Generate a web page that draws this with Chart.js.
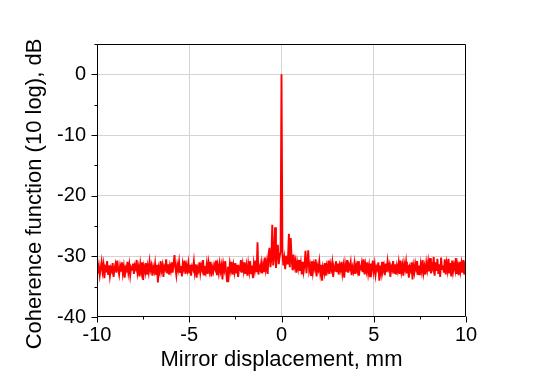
<!DOCTYPE html>
<html>
<head>
<meta charset="utf-8">
<script src="https://cdn.jsdelivr.net/npm/chart.js@4/dist/chart.umd.min.js"></script>
<style>
    html, body { margin: 0; padding: 0; background: #fff; }
    #wrap { width: 542px; height: 381px; }
</style>
</head>
<body>
<div id="wrap"><canvas id="coherence"></canvas></div>
<script>
// sampling of the mirror scan, mm
const xStart = -10;
const xStep = 0.05;

// coherence function, dB (10 log), one row per mm of displacement
const coherence = [
    -31.2,-32.8,-31.6,-33.1,-32.0,-30.9,-32.5,-31.4,-33.6,-31.8,-32.2,-30.8,-32.9,-31.5,-33.2,-31.9,-32.4,-31.1,-33.4,-32.0,
    -31.3,-32.7,-30.7,-32.1,-33.0,-31.6,-32.5,-31.0,-32.8,-31.7,-33.5,-31.9,-32.3,-30.9,-32.6,-31.4,-33.1,-31.8,-32.2,-31.2,
    -32.9,-31.5,-32.0,-30.6,-32.7,-31.8,-33.3,-31.3,-32.5,-31.0,-33.9,-31.7,-32.4,-31.1,-33.0,-31.6,-32.6,-30.9,-32.2,-31.5,
    -33.2,-31.8,-32.5,-31.2,-32.9,-31.4,-34.3,-31.9,-32.6,-30.8,-32.3,-31.5,-33.4,-31.7,-32.1,-30.5,-32.8,-31.3,-33.0,-31.6,
    -32.4,-31.0,-32.7,-31.3,-29.8,-31.9,-33.1,-31.4,-32.2,-30.9,-32.6,-31.6,-33.3,-31.2,-32.0,-30.7,-32.9,-31.5,-32.3,-31.1,
    -32.8,-31.4,-33.2,-31.7,-32.1,-30.8,-32.6,-31.3,-33.5,-31.9,-32.4,-31.0,-32.7,-31.5,-32.2,-30.6,-33.0,-31.6,-32.5,-31.2,
    -32.9,-31.1,-32.3,-30.9,-33.3,-31.8,-32.5,-31.4,-32.0,-30.7,-33.1,-31.6,-32.7,-31.2,-32.4,-31.5,-33.8,-31.3,-32.2,-30.8,
    -32.6,-34.1,-31.7,-32.9,-31.2,-32.3,-30.9,-33.0,-31.5,-32.6,-31.1,-32.8,-31.4,-33.4,-31.8,-32.1,-30.6,-32.7,-31.3,-32.4,
    -31.0,-32.9,-31.6,-33.2,-31.3,-32.5,-30.8,-32.8,-31.5,-33.6,-31.2,-32.3,-30.7,-32.6,-27.7,-33.0,-31.7,-32.2,-31.1,-32.8,
    -31.4,-32.6,-30.2,-32.1,-31.0,-32.9,-29.6,-28.6,-31.8,-30.4,-24.8,-31.5,-30.1,-25.2,-31.9,-29.8,-28.1,-31.3,-30.0,-29.2,
    0.0,-29.4,-31.5,-30.3,-32.1,-29.9,-31.2,-30.6,-26.3,-31.8,-27.0,-30.5,-32.3,-29.7,-31.6,-30.8,-32.7,-31.0,-32.0,-30.6,
    -32.4,-31.2,-33.0,-30.9,-32.5,-31.4,-29.1,-32.8,-31.0,-29.0,-32.3,-31.5,-33.1,-30.8,-32.6,-31.3,-32.0,-30.5,-33.3,-31.6,
    -32.2,-30.9,-32.7,-31.4,-34.0,-31.8,-32.5,-31.1,-33.2,-31.6,-32.3,-30.7,-32.9,-31.3,-32.1,-31.0,-33.4,-31.7,-32.4,-30.8,
    -32.6,-31.2,-33.0,-31.5,-32.2,-30.9,-32.8,-31.6,-33.5,-31.3,-32.4,-30.6,-32.7,-31.4,-32.0,-31.0,-33.1,-31.8,-32.5,-31.2,
    -32.9,-31.5,-32.3,-30.8,-33.2,-31.7,-32.0,-31.1,-32.6,-30.5,-33.0,-31.4,-32.4,-31.0,-32.8,-31.6,-33.3,-31.2,-32.1,-30.7,
    -32.5,-31.3,-33.0,-31.8,-32.2,-31.0,-34.0,-31.5,-32.7,-30.9,-32.3,-31.6,-33.1,-31.2,-32.6,-30.8,-32.0,-31.4,-33.4,-31.7,
    -32.2,-30.8,-32.7,-31.3,-33.0,-31.6,-32.4,-31.1,-32.9,-30.7,-32.5,-31.5,-33.2,-31.2,-32.1,-30.9,-32.8,-31.4,-33.5,-31.8,
    -32.3,-31.0,-33.8,-31.6,-32.6,-31.2,-32.1,-30.8,-32.9,-31.5,-33.1,-31.3,-32.4,-30.6,-32.7,-31.7,-33.0,-31.1,-32.2,-30.9,
    -32.5,-30.3,-32.8,-31.4,-32.0,-30.1,-33.2,-31.0,-32.4,-30.4,-32.9,-31.3,-33.4,-30.2,-32.1,-31.5,-32.7,-30.5,-33.0,-31.2,
    -32.3,-30.4,-32.8,-31.1,-33.3,-30.7,-32.5,-31.4,-32.1,-30.3,-32.9,-31.6,-33.1,-30.9,-32.4,-31.2,-32.7,-30.6,-33.0,-31.5,
    -32.2
];

const xTickValues = [-10, -5, 0, 5, 10];
const yTickValues = [-40, -30, -20, -10, 0];

const points = coherence.map((v, i) => ({ x: +(xStart + i * xStep).toFixed(2), y: v }));

const textFont = "'Liberation Sans', Arial, sans-serif";

// frame, outward ticks and rotated y title
const framePlugin = {
    id: "frame",
    afterDraw(chart) {
        const { ctx, chartArea: a, scales } = chart;
        const l = Math.round(a.left) + 0.5;
        const r = Math.round(a.right) - 0.5;
        const t = Math.round(a.top) + 0.5;
        const b = Math.round(a.bottom) - 0.5;
        ctx.save();
        ctx.strokeStyle = "#000";
        ctx.lineWidth = 1;
        ctx.beginPath();
        ctx.rect(l, t, r - l, b - t);
        for (let v = -10; v <= 10; v += 2.5) {
            const px = Math.round(scales.x.getPixelForValue(v)) + 0.5;
            const len = xTickValues.includes(v) ? 6 : 3;
            ctx.moveTo(px, b);
            ctx.lineTo(px, b + len);
        }
        for (let v = -40; v <= 5; v += 5) {
            const py = Math.round(scales.y.getPixelForValue(v)) + 0.5;
            const len = yTickValues.includes(v) ? 6 : 3;
            ctx.moveTo(l, py);
            ctx.lineTo(l - len, py);
        }
        ctx.stroke();

        ctx.fillStyle = "#000";
        ctx.font = "22px " + textFont;
        ctx.textAlign = "center";
        ctx.textBaseline = "middle";
        ctx.translate(35, 194);
        ctx.rotate(-Math.PI / 2);
        ctx.fillText("Coherence function (10 log), dB", 0, 0);
        ctx.restore();
    },
};

const ctx = document.getElementById("coherence").getContext("2d");

new Chart(ctx, {
    type: "line",
    data: {
        datasets: [
            {
                data: points,
                borderColor: "#ff0000",
                borderWidth: 1.9,
                pointRadius: 0,
                tension: 0,
            },
        ],
    },
    options: {
        responsive: true,
        maintainAspectRatio: false,
        animation: false,
        events: [],
        layout: {
            padding: { left: 0, right: 76, top: 44, bottom: 0 },
        },
        plugins: {
            legend: { display: false },
            tooltip: { enabled: false },
        },
        scales: {
            x: {
                type: "linear",
                min: -10,
                max: 10,
                afterFit: (scale) => {
                    scale.height = 64;
                },
                border: { display: false },
                grid: {
                    drawTicks: false,
                    color: (c) =>
                        c.tick && c.tick.value % 5 === 0 && Math.abs(c.tick.value) < 10
                            ? "#d4d4d4"
                            : "rgba(0,0,0,0)",
                },
                ticks: {
                    stepSize: 2.5,
                    padding: 6,
                    color: "#000",
                    font: { family: textFont, size: 20 },
                    maxRotation: 0,
                    autoSkip: false,
                    callback: (v) => (xTickValues.includes(v) ? String(v) : ""),
                },
                title: {
                    display: true,
                    text: "Mirror displacement, mm",
                    color: "#000",
                    font: { family: textFont, size: 22 },
                    padding: { top: 0, bottom: 8 },
                },
            },
            y: {
                min: -40,
                max: 5,
                afterFit: (scale) => {
                    scale.width = 97;
                },
                border: { display: false },
                grid: {
                    drawTicks: false,
                    color: (c) =>
                        c.tick && c.tick.value % 10 === 0 && c.tick.value > -40
                            ? "#d4d4d4"
                            : "rgba(0,0,0,0)",
                },
                ticks: {
                    stepSize: 5,
                    padding: 11,
                    color: "#000",
                    font: { family: textFont, size: 20 },
                    autoSkip: false,
                    callback: (v) => (yTickValues.includes(v) ? String(v) : ""),
                },
            },
        },
    },
    plugins: [framePlugin],
});
</script>
</body>
</html>
